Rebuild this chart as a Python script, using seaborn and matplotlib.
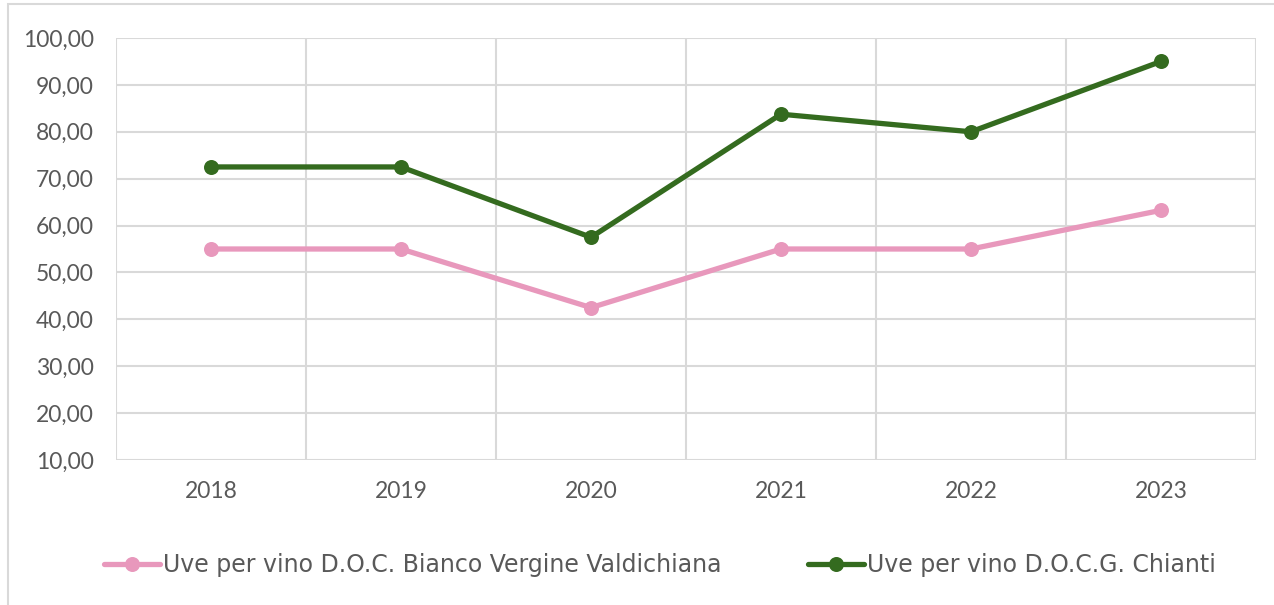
import matplotlib
matplotlib.use("Agg")
import matplotlib.pyplot as plt
import matplotlib.ticker as mticker
from matplotlib.patches import Rectangle
import seaborn as sns
import pandas as pd

years = ["2018", "2019", "2020", "2021", "2022", "2023"]
series_names = ["Uve per vino D.O.C. Bianco Vergine Valdichiana",
                "Uve per vino D.O.C.G. Chianti"]
bianco = [55.0, 55.0, 42.5, 55.0, 55.0, 63.25]
chianti = [72.5, 72.5, 57.5, 83.75, 80.0, 95.0]
colors = ["#E898BC", "#346B1F"]

df = pd.DataFrame({
    "Anno": years * 2,
    "Valore": bianco + chianti,
    "Serie": [series_names[0]] * len(years) + [series_names[1]] * len(years),
})

sns.set_style("white")
plt.rcParams["font.family"] = ["Lato", "DejaVu Sans"]

fig = plt.figure(figsize=(12.74, 6.05), dpi=100)
ax = fig.add_axes([116 / 1274, 1 - 460 / 605, (1256 - 116) / 1274, (460 - 38) / 605])

sns.lineplot(data=df, x="Anno", y="Valore", hue="Serie", palette=colors,
             marker="o", markersize=10.8, markeredgewidth=0, linewidth=3.8,
             sort=False, ax=ax)

ax.set_xlim(-0.5, len(years) - 0.5)
ax.set_ylim(10, 100)
ax.yaxis.set_major_locator(mticker.MultipleLocator(10))
ax.yaxis.set_major_formatter(mticker.FuncFormatter(lambda v, p: f"{v:.2f}".replace(".", ",")))
ax.set_xticks(range(len(years)))
ax.set_xticklabels(years)
ax.xaxis.set_minor_locator(mticker.FixedLocator([i + 0.5 for i in range(-1, len(years))]))
ax.grid(True, axis="y", which="major", color="#D9D9D9", linewidth=1.5)
ax.grid(True, axis="x", which="minor", color="#D9D9D9", linewidth=1.5)
ax.grid(False, axis="x", which="major")
ax.set_axisbelow(True)
for s in ax.spines.values():
    s.set_visible(False)
ax.tick_params(axis="both", which="both", length=0, labelsize=16.5, labelcolor="#595959")
ax.tick_params(axis="y", pad=16)
ax.tick_params(axis="x", pad=15)
ax.set_xlabel("")
ax.set_ylabel("")

handles, labels = ax.get_legend_handles_labels()
if ax.get_legend() is not None:
    ax.get_legend().remove()
fig.legend(handles, labels, loc="center", bbox_to_anchor=(660 / 1274, 1 - 565 / 605),
           ncol=2, frameon=False, prop={"family": ["DejaVu Sans"], "size": 17},
           labelcolor="#595959",
           handlelength=2.37, handletextpad=0.12, columnspacing=3.7,
           bbox_transform=fig.transFigure)

fig.patches.append(Rectangle((8 / 1274, -0.1), 1.2, 1 - 4 / 605 + 0.1, transform=fig.transFigure,
                             fill=False, edgecolor="#D9D9D9", linewidth=1.5, zorder=0))

fig.savefig("out.png", dpi=100, facecolor="white")
